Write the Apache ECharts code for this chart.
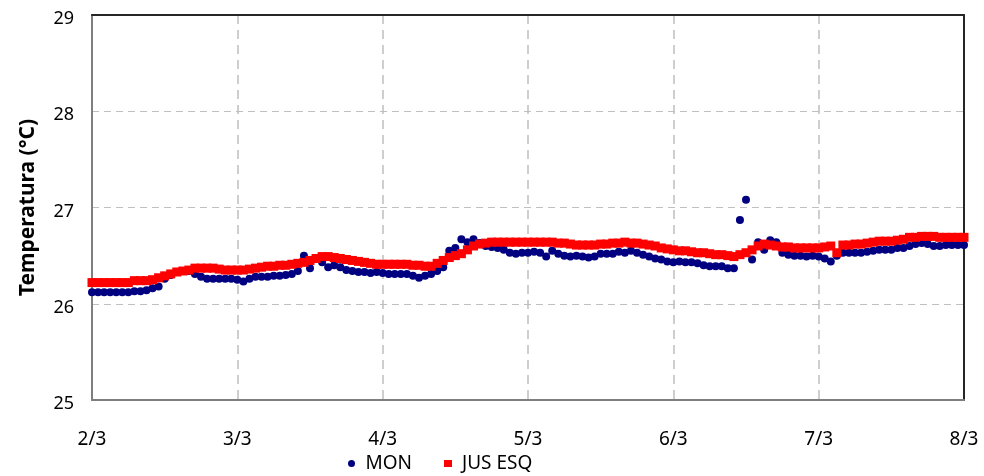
<!DOCTYPE html>
<html>
<head>
<meta charset="utf-8">
<script src="https://cdn.jsdelivr.net/npm/echarts@6/dist/echarts.min.js"></script>
<style>
  html, body { margin: 0; padding: 0; background: #fff; }
  #chart { width: 984px; height: 476px; }
</style>
</head>
<body>
<div id="chart"></div>
<script>
// Day labels on the time axis (one tick every 24 h)
const dayLabels = ['2/3', '3/3', '4/3', '5/3', '6/3', '7/3', '8/3'];

// Hourly readings, hour 0 = 2/3 00:00 through 8/3 00:00
const mon = [
  26.12, 26.12, 26.12, 26.12, 26.12, 26.12, 26.12, 26.13, 26.13, 26.14, 26.16, 26.18,
  26.26, 26.30, 26.33, 26.34, 26.34, 26.31, 26.28, 26.26, 26.26, 26.26, 26.26, 26.26,
  26.25, 26.23, 26.26, 26.28, 26.28, 26.28, 26.29, 26.29, 26.30, 26.31, 26.34, 26.50,
  26.37, 26.47, 26.43, 26.38, 26.40, 26.38, 26.35, 26.34, 26.33, 26.33, 26.32, 26.33,
  26.32, 26.31, 26.31, 26.31, 26.31, 26.29, 26.27, 26.29, 26.31, 26.34, 26.38, 26.55,
  26.58, 26.67, 26.64, 26.67, 26.63, 26.60, 26.59, 26.58, 26.56, 26.53, 26.52, 26.53,
  26.53, 26.54, 26.53, 26.49, 26.55, 26.52, 26.50, 26.49, 26.50, 26.49, 26.48, 26.49,
  26.52, 26.52, 26.52, 26.54, 26.53, 26.55, 26.53, 26.51, 26.49, 26.47, 26.46, 26.44,
  26.43, 26.44, 26.43, 26.43, 26.42, 26.40, 26.39, 26.39, 26.39, 26.37, 26.37, 26.87,
  27.08, 26.46, 26.64, 26.56, 26.66, 26.64, 26.53, 26.51, 26.50, 26.50, 26.49, 26.50,
  26.49, 26.47, 26.44, 26.50, 26.53, 26.53, 26.53, 26.53, 26.54, 26.55, 26.56, 26.56,
  26.56, 26.58, 26.58, 26.60, 26.62, 26.63, 26.62, 26.60, 26.60, 26.61, 26.61, 26.61,
  26.61
];

const jusEsq = [
  26.22, 26.22, 26.22, 26.22, 26.22, 26.22, 26.22, 26.24, 26.24, 26.24, 26.25, 26.27,
  26.29, 26.31, 26.33, 26.34, 26.35, 26.37, 26.37, 26.37, 26.37, 26.36, 26.35, 26.35,
  26.35, 26.35, 26.36, 26.37, 26.38, 26.39, 26.39, 26.40, 26.40, 26.41, 26.42, 26.43,
  26.45, 26.47, 26.49, 26.49, 26.48, 26.47, 26.46, 26.45, 26.44, 26.43, 26.42, 26.41,
  26.41, 26.41, 26.41, 26.41, 26.41, 26.40, 26.40, 26.39, 26.39, 26.42, 26.45, 26.48,
  26.50, 26.52, 26.56, 26.60, 26.62, 26.63, 26.64, 26.64, 26.64, 26.64, 26.64, 26.64,
  26.64, 26.64, 26.64, 26.64, 26.64, 26.63, 26.63, 26.62, 26.61, 26.61, 26.61, 26.61,
  26.62, 26.62, 26.63, 26.63, 26.64, 26.63, 26.63, 26.62, 26.61, 26.60, 26.58, 26.57,
  26.56, 26.55, 26.55, 26.54, 26.53, 26.53, 26.52, 26.51, 26.51, 26.50, 26.49, 26.51,
  26.53, 26.56, 26.60, 26.62, 26.61, 26.60, 26.59, 26.59, 26.58, 26.58, 26.58, 26.58,
  26.58, 26.59, 26.60, 26.53, 26.61, 26.61, 26.62, 26.62, 26.63, 26.64, 26.65, 26.65,
  26.65, 26.66, 26.67, 26.69, 26.69, 26.70, 26.70, 26.70, 26.69, 26.69, 26.69, 26.69,
  26.69
];

const FONT = 'Noto Sans';
const withHours = arr => arr.map((v, i) => [i, v]);

const chart = echarts.init(document.getElementById('chart'), null, { renderer: 'canvas' });

// plain frame edges (top / right) drawn as label-less axes
const frameEdge = { show: true, onZero: false, lineStyle: { color: '#262626', width: 2 } };

chart.setOption({
  animation: false,
  backgroundColor: '#ffffff',
  textStyle: { fontFamily: FONT },
  grid: { left: 92, right: 20, top: 15, bottom: 76 },
  legend: {
    left: 343, top: 449,
    itemGap: 32,
    itemWidth: 8, itemHeight: 7,
    textStyle: { fontFamily: FONT, fontSize: 19, color: '#000', padding: [0, 0, 0, 5] },
    data: [
      { name: 'MON', icon: 'circle', itemStyle: { color: '#000080', opacity: 1 } },
      { name: 'JUS ESQ', icon: 'rect', itemStyle: { color: '#ff0000', opacity: 1 } }
    ]
  },
  xAxis: [
    {
      type: 'value',
      min: 0, max: 144, interval: 24,
      axisLine: { show: true, onZero: false, lineStyle: { color: '#7f7f7f', width: 2 } },
      axisTick: { show: false },
      axisLabel: {
        margin: 30,
        fontFamily: FONT, fontSize: 19, color: '#000',
        formatter: v => dayLabels[Math.round(v / 24)]
      },
      splitLine: { show: true, lineStyle: { color: '#bfbfbf', width: 1.5, type: [9, 6] } }
    },
    {
      type: 'value', position: 'top',
      min: 0, max: 144, interval: 24,
      axisLine: frameEdge, axisTick: { show: false },
      axisLabel: { show: false }, splitLine: { show: false }
    }
  ],
  yAxis: [
    {
      type: 'value',
      min: 25, max: 29, interval: 1,
      name: 'Temperatura (°C)',
      nameLocation: 'middle',
      nameGap: 53,
      nameTextStyle: { fontFamily: FONT, fontSize: 21, fontWeight: 'bold', color: '#000' },
      axisLine: { show: true, lineStyle: { color: '#7f7f7f', width: 2 } },
      axisTick: { show: false },
      axisLabel: {
        margin: 18, fontFamily: FONT, fontSize: 18, color: '#000',
        formatter: v => '{t|' + v + '}',
        rich: { t: { fontFamily: FONT, fontSize: 18, color: '#000', padding: [8, 0, 0, 0] } }
      },
      splitLine: { show: true, lineStyle: { color: '#bfbfbf', width: 1, type: [7, 5] } }
    },
    {
      type: 'value', position: 'right',
      min: 25, max: 29, interval: 1,
      axisLine: frameEdge, axisTick: { show: false },
      axisLabel: { show: false }, splitLine: { show: false }
    }
  ],
  series: [
    {
      name: 'MON', type: 'scatter',
      data: withHours(mon),
      symbol: 'circle', symbolSize: 8,
      itemStyle: { color: '#000080', opacity: 1 }
    },
    {
      name: 'JUS ESQ', type: 'scatter',
      data: withHours(jusEsq),
      symbol: 'rect', symbolSize: 9,
      itemStyle: { color: '#ff0000', opacity: 1 }
    }
  ]
});
</script>
</body>
</html>
